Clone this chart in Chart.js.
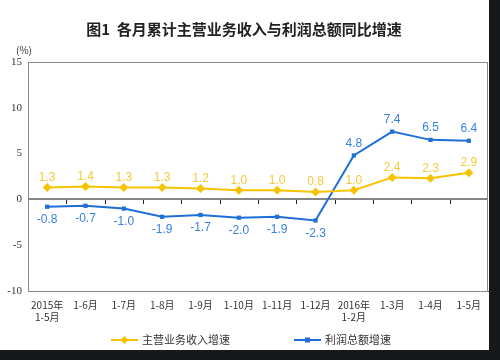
<!DOCTYPE html>
<html>
<head>
<meta charset="utf-8">
<script src="https://cdn.jsdelivr.net/npm/chart.js@4.4.1/dist/chart.umd.min.js"></script>
<style>
  html, body { margin: 0; padding: 0; background: #fff; }
  #wrap { width: 500px; height: 360px; }
</style>
</head>
<body>
<div id="wrap"><canvas id="chart" width="500" height="360"></canvas></div>
<script>
// Month ranges (cumulative), two-line labels where the year is shown
const categories = [
  ["2015年", "1-5月"], "1-6月", "1-7月", "1-8月", "1-9月", "1-10月",
  "1-11月", "1-12月", ["2016年", "1-2月"], "1-3月", "1-4月", "1-5月"
]
const revenueGrowth = [1.3, 1.4, 1.3, 1.3, 1.2, 1.0, 1.0, 0.8, 1.0, 2.4, 2.3, 2.9]
const profitGrowth = [-0.8, -0.7, -1.0, -1.9, -1.7, -2.0, -1.9, -2.3, 4.8, 7.4, 6.5, 6.4]
const yTicks = [15, 10, 5, 0, -5, -10]

const YELLOW = "#f7c300"
const YELLOW_TEXT = "#f5c93a"
const BLUE = "#1f6fd6"
const BLUE_TEXT = "#3a80e0"

// frame, zero line with small ticks, value labels, legend, unit text, outer dark border
const decorations = {
  id: "decorations",
  beforeDatasetsDraw(chart) {
    const { ctx, chartArea: a, scales: { x, y } } = chart
    ctx.save()
    ctx.strokeStyle = "#8a8a8a"
    ctx.lineWidth = 1
    ctx.strokeRect(a.left + 0.5, a.top + 0.5, a.right - a.left - 1, a.bottom - a.top)
    const y0 = Math.round(y.getPixelForValue(0))
    ctx.strokeStyle = "#858585"
    ctx.lineWidth = 2
    ctx.beginPath()
    ctx.moveTo(a.left, y0)
    ctx.lineTo(a.right, y0)
    ctx.stroke()
    ctx.strokeStyle = "#222"
    ctx.lineWidth = 1
    for (let i = 0; i < categories.length - 1; i++) {
      const px = Math.round((x.getPixelForValue(i) + x.getPixelForValue(i + 1)) / 2) + 0.5
      ctx.beginPath()
      ctx.moveTo(px, y0 + 1)
      ctx.lineTo(px, y0 + 5)
      ctx.stroke()
    }
    ctx.restore()
  },
  afterDatasetsDraw(chart) {
    const { ctx } = chart
    ctx.save()
    ctx.font = "12px 'Liberation Sans', Arial, sans-serif"
    ctx.textAlign = "center"
    ctx.textBaseline = "middle"
    chart.data.datasets.forEach((ds, di) => {
      const meta = chart.getDatasetMeta(di)
      ctx.fillStyle = di === 0 ? YELLOW_TEXT : BLUE_TEXT
      meta.data.forEach((pt, i) => {
        const v = ds.data[i]
        const dy = di === 0 ? -10 : (v < 0 ? 13 : -12)
        ctx.fillText(v.toFixed(1), pt.x, pt.y + dy)
      })
    })
    ctx.restore()
  },
  afterDraw(chart) {
    const { ctx } = chart
    ctx.save()
    ctx.textBaseline = "middle"

    // legend: line + marker swatch, then label
    ctx.font = "11px 'Noto Sans CJK SC', sans-serif"
    const sw = 27, gapText = 4, gapItem = 64, ly = 340
    const items = chart.data.datasets.map(ds => ({ ds, w: sw + gapText + ctx.measureText(ds.label).width }))
    const total = items.reduce((s, it) => s + it.w, 0) + gapItem * (items.length - 1)
    let lx = 251 - total / 2
    items.forEach(({ ds, w }) => {
      ctx.strokeStyle = ds.borderColor
      ctx.lineWidth = 2
      ctx.beginPath()
      ctx.moveTo(lx, ly)
      ctx.lineTo(lx + sw, ly)
      ctx.stroke()
      ctx.fillStyle = ds.borderColor
      const cx = lx + sw / 2
      if (ds.pointStyle === "rectRot") {
        ctx.beginPath()
        ctx.moveTo(cx, ly - 4); ctx.lineTo(cx + 4, ly); ctx.lineTo(cx, ly + 4); ctx.lineTo(cx - 4, ly)
        ctx.closePath()
        ctx.fill()
      } else {
        ctx.fillRect(cx - 2.5, ly - 2.5, 5, 5)
      }
      ctx.fillStyle = "#333"
      ctx.textAlign = "left"
      ctx.fillText(ds.label, lx + sw + gapText, ly)
      lx += w + gapItem
    })

    ctx.fillStyle = "#333"
    ctx.font = "10px 'Noto Sans CJK SC', sans-serif"
    ctx.textAlign = "center"
    ctx.fillText("(%)", 24, 50)
    ctx.fillStyle = "#161819"
    ctx.fillRect(489, 0, 11, 360)
    ctx.fillRect(0, 350, 500, 10)
    ctx.restore()
  }
}

new Chart(document.getElementById("chart"), {
  type: "line",
  data: {
    labels: categories,
    datasets: [
      {
        label: "主营业务收入增速",
        data: revenueGrowth,
        borderColor: YELLOW,
        backgroundColor: YELLOW,
        borderWidth: 2,
        pointStyle: "rectRot",
        pointRadius: 4.5,
        pointBackgroundColor: YELLOW,
        pointBorderWidth: 0,
        tension: 0
      },
      {
        label: "利润总额增速",
        data: profitGrowth,
        borderColor: BLUE,
        backgroundColor: BLUE,
        borderWidth: 2,
        pointStyle: "rect",
        pointRadius: 3,
        pointBackgroundColor: BLUE,
        pointBorderWidth: 0,
        tension: 0
      }
    ]
  },
  options: {
    responsive: false,
    animation: false,
    layout: { padding: { left: 0, right: 12, top: 0, bottom: 29 } },
    scales: {
      x: {
        offset: true,
        grid: { display: false, drawTicks: false },
        border: { color: "#555", width: 1 },
        ticks: {
          color: "#333",
          font: { size: 10, family: "'Noto Sans CJK SC', sans-serif" },
          padding: 8,
          maxRotation: 0,
          autoSkip: false
        }
      },
      y: {
        min: -10,
        max: 15,
        afterBuildTicks: s => { s.ticks = yTicks.map(v => ({ value: v })) },
        afterFit: s => { s.width = 28 },
        grid: { display: false, drawTicks: false },
        border: { color: "#555", width: 1 },
        ticks: {
          color: "#333",
          font: { size: 11, family: "'Liberation Serif', serif" },
          padding: 6
        }
      }
    },
    plugins: {
      title: {
        display: true,
        text: "图1  各月累计主营业务收入与利润总额同比增速",
        color: "#222",
        font: { size: 15, weight: "bold", family: "'Noto Sans CJK SC', sans-serif" },
        padding: { top: 20, bottom: 24 }
      },
      legend: { display: false },
      tooltip: { enabled: false }
    }
  },
  plugins: [decorations]
})
</script>
</body>
</html>
